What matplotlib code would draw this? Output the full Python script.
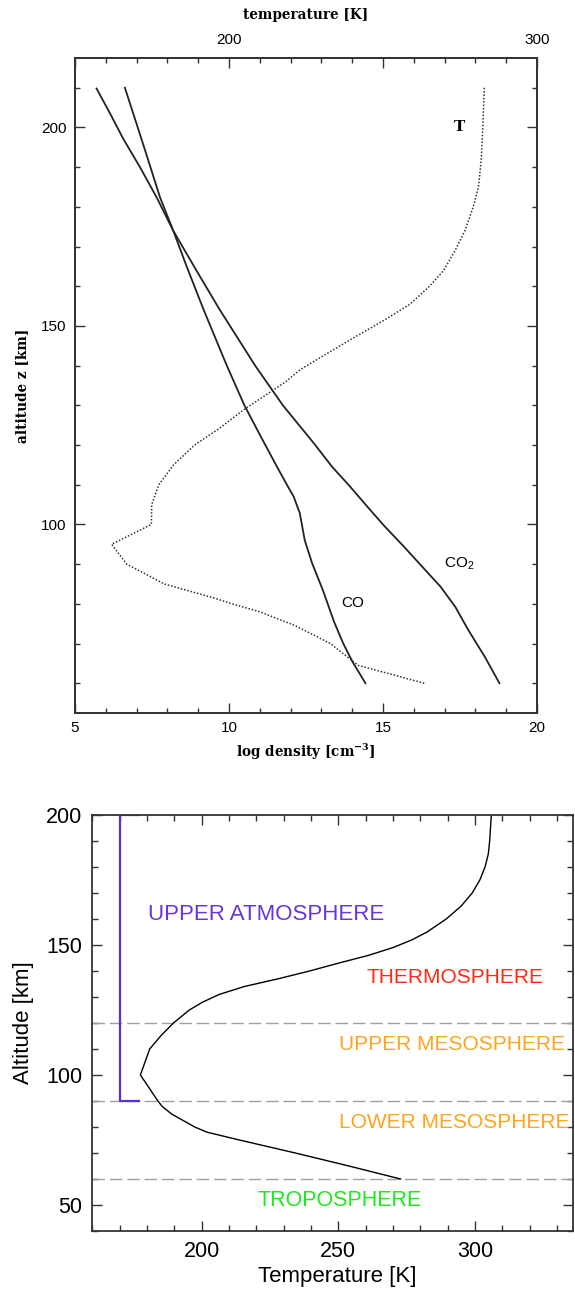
import numpy as np
import matplotlib
matplotlib.use("Agg")
import matplotlib.pyplot as plt
from matplotlib.ticker import MultipleLocator, FixedLocator

plt.rcParams["font.family"] = ["Liberation Sans", "DejaVu Sans"]
plt.rcParams["mathtext.default"] = "regular"

# --- upper panel: density profiles (log cm^-3) and temperature vs altitude
co_alt = [60, 65.4, 70, 75.5, 83.4, 90.2, 96, 102.8, 107, 110, 114.5, 121.3,
          130, 140, 154.2, 164.9, 174, 182.4, 191.7, 200.9, 210]
co_dens = [14.43, 14.01, 13.71, 13.41, 13.05, 12.70, 12.46, 12.30, 12.10, 11.88,
           11.56, 11.09, 10.50, 9.93, 9.17, 8.63, 8.19, 7.76, 7.38, 7.00, 6.62]

co2_alt = [60, 66.6, 73.4, 79.2, 84.3, 89.3, 94.4, 99.8, 104.5, 109.9, 114.5, 120.4,
           130, 140, 154.2, 164, 174, 182.4, 190, 197.1, 203.5, 209.8]
co2_dens = [18.78, 18.31, 17.77, 17.35, 16.87, 16.28, 15.68, 15.02, 14.49, 13.89,
            13.35, 12.76, 11.75, 10.85, 9.69, 8.94, 8.19, 7.65, 7.11, 6.57, 6.14, 5.70]

t_alt = [60, 64.5, 70, 74.5, 78, 80, 81.5, 85, 90, 95, 100, 105, 110, 115, 120, 124,
         129, 136, 139, 141.5, 146.5, 151.5, 155.5, 160, 164, 169, 174, 180, 185, 192,
         200, 210]
t_temp = [263.4, 241.9, 232.9, 221.5, 210, 201, 195, 179, 166.8, 161.9, 174.8, 174.9,
          177.2, 182, 188.8, 196.5, 205, 218.5, 223.1, 228.5, 239.3, 250.5, 258.8, 265.1,
          269.7, 273.4, 276.6, 279.3, 281, 281.9, 282.4, 282.9]

# --- lower panel: reference temperature profile and layer names
prof_alt = [60, 65, 70, 75, 78, 80, 85, 88, 90, 95, 100, 105, 110, 115, 120, 125, 128,
            131, 134, 137, 140, 143, 146, 149, 152, 155, 160, 165, 170, 175, 180, 185,
            190, 195, 200]
prof_temp = [272.8, 253.9, 234.3, 213.8, 202, 197.5, 189, 185.5, 184, 180.8, 177.6,
             179.3, 181, 185, 189.7, 195.5, 200.3, 206.5, 215.5, 228, 239.5, 250, 261,
             270, 277, 282.5, 289.5, 295, 299, 301.8, 303.7, 304.9, 305.4, 305.7, 306]
layer_bounds = [120, 90, 60]
bracket_alt = [200, 90]
bracket_temp = [170, 177]
layers = ["UPPER ATMOSPHERE", "THERMOSPHERE", "UPPER MESOSPHERE",
          "LOWER MESOSPHERE", "TROPOSPHERE"]
layer_x = [180.4, 260.5, 250.4, 250.4, 220.4]
layer_y = [159.6, 135.4, 109.5, 79.6, 49.5]
layer_colors = ["#6636d8", "#ff2a14", "#ffa41c", "#ffa41c", "#1ee81e"]
layer_sizes = [16, 15, 15, 15, 15.5]

fig = plt.figure(figsize=(5.75, 12.93), dpi=100)

spine_col = "#333333"
serif = dict(family="DejaVu Serif", weight="bold", fontsize=9.8)

# upper panel
ax = fig.add_axes([75 / 575, 580 / 1293, 462 / 575, 655 / 1293])
ax.plot(co_dens, co_alt, color="#222222", lw=1.3)
ax.plot(co2_dens, co2_alt, color="#222222", lw=1.3)
ax.set_xlim(5, 20)
ax.set_ylim(52.5, 217.5)
ax.xaxis.set_major_locator(MultipleLocator(5))
ax.xaxis.set_minor_locator(MultipleLocator(1))
ax.yaxis.set_major_locator(MultipleLocator(50))
ax.yaxis.set_minor_locator(MultipleLocator(10))
ax.tick_params(which="both", direction="in", right=True, top=False,
               color=spine_col, width=1, labelsize=11)
ax.tick_params(which="major", length=7, pad=6)
ax.tick_params(which="minor", length=3.6)
ax.set_xlabel(r"log density [cm$^{-3}$]", **serif)
ax.xaxis.label.set_va("center")
ax.xaxis.set_label_coords(0.5, -0.0595)
ax.set_ylabel("altitude z [km]", **serif)
ax.yaxis.label.set_va("center")
ax.yaxis.set_label_coords(-0.115, 0.5)

ax.text(14.01, 80.1, "CO", fontsize=11, ha="center", va="center")
ax.text(17.47, 90.0, r"CO$_2$", fontsize=11, ha="center", va="center")

# temperature on the top axis
axt = ax.twiny()
axt.plot(t_temp, t_alt, color="#333333", lw=1.1, linestyle=(0, (1, 1.2)))
axt.set_xlim(150, 300)
axt.xaxis.set_major_locator(FixedLocator([150, 200, 250, 300]))
axt.xaxis.set_minor_locator(MultipleLocator(10))
axt.set_xticklabels(["", "200", "", "300"])
axt.tick_params(which="both", direction="in", color=spine_col, width=1, labelsize=11)
axt.tick_params(which="major", length=7, pad=8)
axt.tick_params(which="minor", length=3.6)
axt.set_xlabel("temperature [K]", **serif)
axt.xaxis.label.set_va("center")
axt.xaxis.set_label_coords(0.5, 1.0656)
axt.text(275, 200.1, "T", family="DejaVu Serif", weight="bold", fontsize=11,
         ha="center", va="center")

for a in (ax, axt):
    for s in a.spines.values():
        s.set_color(spine_col)
        s.set_linewidth(1.3)

# lower panel
bx = fig.add_axes([92.3 / 575, 62 / 1293, 481 / 575, 416 / 1293])
for b in layer_bounds:
    bx.axhline(b, color="#a0a0a0", lw=1, linestyle=(0, (9, 3.5)))
bx.plot(prof_temp, prof_alt, color="black", lw=1)
bx.plot([bracket_temp[1], bracket_temp[0], bracket_temp[0], bracket_temp[1]],
        [bracket_alt[0], bracket_alt[0], bracket_alt[1], bracket_alt[1]],
        color="#5a30d6", lw=1.6)
for name, x, y, c, fs in zip(layers, layer_x, layer_y, layer_colors, layer_sizes):
    bx.text(x, y, name, color=c, fontsize=fs, ha="left", va="baseline")
bx.set_xlim(160, 336)
bx.set_ylim(40, 200)
bx.xaxis.set_major_locator(MultipleLocator(50))
bx.xaxis.set_minor_locator(MultipleLocator(10))
bx.yaxis.set_major_locator(MultipleLocator(50))
bx.yaxis.set_minor_locator(MultipleLocator(10))
bx.tick_params(which="both", direction="in", top=True, right=True,
               color=spine_col, width=1, labelsize=15.5)
bx.tick_params(which="major", length=7, pad=7)
bx.tick_params(which="minor", length=4)
bx.set_xlabel("Temperature [K]", fontsize=16)
bx.xaxis.label.set_va("center")
bx.xaxis.set_label_coords(0.51, -0.11)
bx.set_ylabel("Altitude [km]", fontsize=16)
bx.yaxis.label.set_va("center")
bx.yaxis.set_label_coords(-0.142, 0.5)
for s in bx.spines.values():
    s.set_color(spine_col)
    s.set_linewidth(1.3)

fig.savefig("out.png", dpi=100)
